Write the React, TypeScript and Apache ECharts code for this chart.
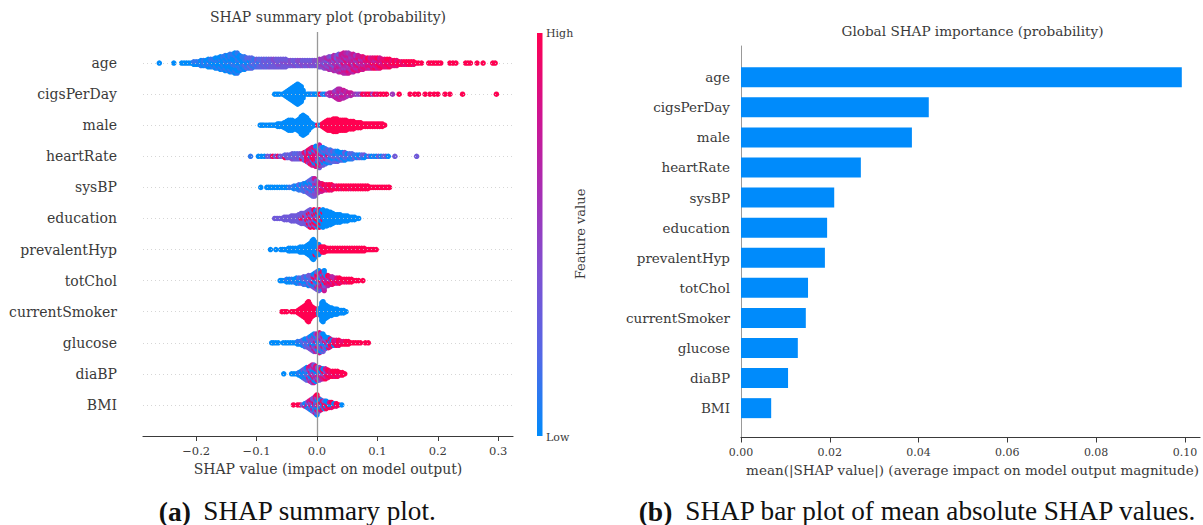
import React, { useEffect, useRef } from "react";
import * as echarts from "echarts";

const features = ["age", "cigsPerDay", "male", "heartRate", "sysBP", "education", "prevalentHyp", "totChol", "currentSmoker", "glucose", "diaBP", "BMI"];
const meanAbsShap = [0.0993, 0.0423, 0.0385, 0.027, 0.021, 0.0194, 0.0189, 0.0151, 0.0146, 0.0128, 0.0106, 0.0068];

// Each column: [SHAP value, one digit (0 low .. 9 high) per dot of the swarm at that value]
type Col = [number, string];
const age: Col[] = [[-0.261,"0"],[-0.237,"0"],[-0.224,"0"],[-0.22,"0"],[-0.216,"0"],[-0.212,"0"],[-0.208,"0"],[-0.204,"01"],[-0.2,"01"],[-0.196,"01"],[-0.192,"100"],[-0.188,"011"],[-0.184,"100"],[-0.18,"0110"],[-0.176,"0101"],[-0.172,"1001"],[-0.168,"01010"],[-0.164,"10010"],[-0.16,"010010"],[-0.156,"101001"],[-0.152,"0100101"],[-0.148,"1001010"],[-0.144,"01001011"],[-0.14,"10011001"],[-0.136,"010110010"],[-0.132,"100101101"],[-0.128,"0110100"],[-0.124,"101001"],[-0.12,"012011"],[-0.116,"21012"],[-0.112,"12102"],[-0.108,"21212"],[-0.104,"1221"],[-0.1,"2123"],[-0.096,"2212"],[-0.092,"2322"],[-0.088,"3233"],[-0.084,"2332"],[-0.08,"3233"],[-0.076,"3323"],[-0.072,"3334"],[-0.068,"3343"],[-0.064,"3433"],[-0.06,"3433"],[-0.056,"3343"],[-0.052,"3343"],[-0.048,"343"],[-0.044,"344"],[-0.04,"343"],[-0.036,"433"],[-0.032,"334"],[-0.028,"344"],[-0.024,"443"],[-0.02,"343"],[-0.016,"343"],[-0.012,"443"],[-0.008,"343"],[-0.004,"344"],[0,"434"],[0.004,"3445"],[0.008,"4545"],[0.012,"45345"],[0.016,"54536"],[0.02,"645364"],[0.024,"564563"],[0.028,"6536476"],[0.032,"5765634"],[0.036,"65764563"],[0.04,"75646567"],[0.044,"675685767"],[0.048,"675668576"],[0.052,"786576675"],[0.056,"75687656"],[0.06,"68756767"],[0.064,"8678575"],[0.068,"7685687"],[0.072,"876857"],[0.076,"786768"],[0.08,"87687"],[0.084,"78789"],[0.088,"68787"],[0.092,"87978"],[0.096,"97868"],[0.1,"78979"],[0.104,"89787"],[0.108,"9878"],[0.112,"8898"],[0.116,"8989"],[0.12,"9889"],[0.124,"898"],[0.128,"899"],[0.132,"898"],[0.136,"99"],[0.14,"98"],[0.144,"89"],[0.148,"89"],[0.152,"99"],[0.156,"99"],[0.16,"89"],[0.164,"9"],[0.168,"9"],[0.173,"9"],[0.185,"9"],[0.189,"9"],[0.193,"9"],[0.197,"9"],[0.201,"9"],[0.205,"9"],[0.22,"9"],[0.225,"9"],[0.23,"9"],[0.246,"9"],[0.25,"9"],[0.254,"9"],[0.265,"9"],[0.275,"9"],[0.291,"9"],[0.295,"9"]];
const cigsPerDay: Col[] = [[-0.07,"0"],[-0.066,"0"],[-0.062,"0"],[-0.057,"0"],[-0.053,"00"],[-0.05,"000"],[-0.047,"0000"],[-0.044,"00000"],[-0.041,"000000"],[-0.038,"0000000"],[-0.035,"00000000"],[-0.032,"000000000"],[-0.029,"00000000"],[-0.026,"0000000"],[-0.023,"0000"],[-0.02,"0"],[-0.016,"0"],[-0.013,"0"],[-0.01,"0"],[-0.007,"1"],[-0.004,"0"],[-0.001,"0"],[0.002,"0"],[0.005,"9"],[0.009,"1"],[0.013,"0"],[0.017,"5"],[0.021,"56"],[0.025,"67"],[0.029,"675"],[0.032,"7564"],[0.035,"67566"],[0.038,"76576"],[0.041,"6756"],[0.044,"6757"],[0.048,"676"],[0.052,"57"],[0.056,"67"],[0.06,"6"],[0.064,"5"],[0.068,"4"],[0.072,"5"],[0.076,"9"],[0.08,"8"],[0.084,"9"],[0.088,"9"],[0.092,"5"],[0.096,"9"],[0.1,"8"],[0.105,"9"],[0.11,"9"],[0.115,"9"],[0.125,"5"],[0.136,"9"],[0.154,"9"],[0.162,"9"],[0.168,"9"],[0.179,"9"],[0.187,"9"],[0.194,"9"],[0.2,"9"],[0.212,"9"],[0.22,"9"],[0.241,"9"],[0.297,"9"]];
const male: Col[] = [[-0.094,"0"],[-0.091,"0"],[-0.088,"0"],[-0.084,"0"],[-0.08,"0"],[-0.077,"0"],[-0.074,"0"],[-0.071,"0"],[-0.068,"0"],[-0.065,"00"],[-0.062,"00"],[-0.058,"00"],[-0.054,"000"],[-0.05,"0000"],[-0.047,"00000"],[-0.044,"00000"],[-0.041,"00000"],[-0.038,"0000"],[-0.035,"0000"],[-0.032,"00000"],[-0.029,"000000"],[-0.026,"00000000"],[-0.023,"000000000"],[-0.02,"00000000"],[-0.017,"0000000"],[-0.014,"00000"],[-0.011,"000"],[-0.008,"00"],[-0.004,"0"],[0.001,"9"],[0.005,"0"],[0.009,"99"],[0.012,"999"],[0.015,"9999"],[0.018,"99999"],[0.021,"99999"],[0.024,"99999"],[0.027,"999999"],[0.03,"999999"],[0.033,"999999"],[0.036,"99999"],[0.039,"99999"],[0.042,"99999"],[0.045,"99999"],[0.048,"99999"],[0.052,"9999"],[0.056,"9999"],[0.06,"9999"],[0.064,"999"],[0.068,"999"],[0.072,"999"],[0.076,"99"],[0.08,"99"],[0.084,"99"],[0.088,"99"],[0.092,"99"],[0.096,"99"],[0.1,"99"],[0.104,"99"],[0.108,"99"],[0.112,"9"]];
const heartRate: Col[] = [[-0.11,"1"],[-0.097,"0"],[-0.092,"0"],[-0.087,"0"],[-0.082,"3"],[-0.077,"3"],[-0.073,"9"],[-0.069,"3"],[-0.065,"8"],[-0.061,"3"],[-0.057,"3"],[-0.053,"92"],[-0.049,"33"],[-0.045,"32"],[-0.041,"423"],[-0.037,"332"],[-0.033,"342"],[-0.029,"323"],[-0.025,"934"],[-0.021,"2348"],[-0.017,"98963"],[-0.014,"487989"],[-0.011,"9680748"],[-0.008,"79398067"],[-0.005,"60989708"],[-0.002,"806978360"],[0.001,"790376850"],[0.004,"3806749207"],[0.007,"58307303"],[0.01,"30627120"],[0.014,"2073031"],[0.018,"023813"],[0.022,"130321"],[0.026,"20313"],[0.03,"21301"],[0.034,"30210"],[0.038,"1310"],[0.042,"2030"],[0.046,"0213"],[0.05,"130"],[0.054,"012"],[0.058,"102"],[0.062,"31"],[0.066,"01"],[0.07,"30"],[0.074,"12"],[0.078,"03"],[0.082,"0"],[0.086,"3"],[0.09,"0"],[0.094,"1"],[0.098,"0"],[0.102,"3"],[0.106,"0"],[0.11,"2"],[0.114,"3"],[0.118,"0"],[0.129,"3"],[0.165,"3"]];
const sysBP: Col[] = [[-0.093,"0"],[-0.083,"0"],[-0.08,"0"],[-0.077,"0"],[-0.074,"0"],[-0.07,"0"],[-0.066,"0"],[-0.062,"0"],[-0.058,"0"],[-0.054,"0"],[-0.05,"0"],[-0.046,"1"],[-0.042,"1"],[-0.038,"01"],[-0.034,"10"],[-0.03,"102"],[-0.026,"120"],[-0.022,"2131"],[-0.019,"1320"],[-0.016,"32130"],[-0.013,"241302"],[-0.01,"3214302"],[-0.007,"23143023"],[-0.004,"34204537"],[-0.001,"435073"],[0.002,"54635"],[0.005,"6578"],[0.008,"7968"],[0.012,"879"],[0.016,"798"],[0.02,"989"],[0.024,"899"],[0.028,"98"],[0.032,"98"],[0.036,"99"],[0.04,"89"],[0.044,"99"],[0.048,"99"],[0.052,"99"],[0.056,"89"],[0.06,"99"],[0.064,"99"],[0.068,"99"],[0.072,"99"],[0.076,"99"],[0.08,"99"],[0.084,"99"],[0.088,"9"],[0.091,"9"],[0.094,"9"],[0.097,"9"],[0.1,"9"],[0.103,"9"],[0.106,"9"],[0.109,"9"],[0.112,"9"],[0.115,"9"],[0.118,"9"],[0.12,"9"]];
const education: Col[] = [[-0.07,"3"],[-0.066,"3"],[-0.062,"3"],[-0.058,"3"],[-0.054,"33"],[-0.05,"33"],[-0.046,"33"],[-0.042,"333"],[-0.038,"333"],[-0.034,"333"],[-0.03,"3333"],[-0.026,"33933"],[-0.023,"33933"],[-0.02,"33393"],[-0.017,"339333"],[-0.014,"3939393"],[-0.011,"93339393"],[-0.008,"3939333"],[-0.005,"93933939"],[-0.002,"3909390"],[0.001,"09093093"],[0.004,"90909009"],[0.007,"0900900"],[0.01,"00090090"],[0.013,"000000"],[0.016,"0000000"],[0.019,"000000"],[0.022,"000000"],[0.026,"00000"],[0.03,"0000"],[0.034,"0000"],[0.038,"0000"],[0.042,"000"],[0.046,"000"],[0.05,"000"],[0.054,"00"],[0.058,"00"],[0.062,"00"],[0.066,"0"],[0.069,"0"]];
const prevalentHyp: Col[] = [[-0.077,"0"],[-0.068,"0"],[-0.06,"0"],[-0.057,"0"],[-0.054,"0"],[-0.05,"0"],[-0.047,"00"],[-0.044,"00"],[-0.04,"00"],[-0.036,"00"],[-0.032,"00"],[-0.028,"000"],[-0.024,"000"],[-0.02,"000"],[-0.017,"0000"],[-0.014,"00000"],[-0.011,"000000"],[-0.008,"00000000"],[-0.006,"000000000"],[-0.003,"0900000"],[0,"00000"],[0.003,"00900"],[0.006,"099"],[0.009,"999"],[0.012,"999"],[0.015,"99"],[0.018,"99"],[0.022,"99"],[0.026,"99"],[0.03,"99"],[0.034,"99"],[0.038,"99"],[0.042,"99"],[0.046,"99"],[0.05,"99"],[0.054,"99"],[0.058,"99"],[0.062,"99"],[0.066,"99"],[0.07,"99"],[0.074,"99"],[0.078,"99"],[0.082,"9"],[0.085,"9"],[0.088,"9"],[0.091,"9"],[0.094,"9"],[0.098,"9"]];
const totChol: Col[] = [[-0.061,"0"],[-0.058,"0"],[-0.054,"0"],[-0.05,"01"],[-0.046,"00"],[-0.042,"01"],[-0.038,"10"],[-0.034,"010"],[-0.03,"102"],[-0.026,"301"],[-0.022,"1023"],[-0.018,"2031"],[-0.014,"03213"],[-0.01,"30423"],[-0.006,"309380"],[-0.003,"4030930"],[0,"37303793"],[0.003,"309073950"],[0.006,"5739037"],[0.009,"06953708"],[0.012,"763095830"],[0.015,"39670"],[0.018,"68759"],[0.021,"7958"],[0.025,"8796"],[0.029,"986"],[0.033,"798"],[0.037,"989"],[0.041,"89"],[0.045,"99"],[0.049,"89"],[0.053,"99"],[0.057,"99"],[0.061,"9"],[0.065,"9"],[0.069,"9"],[0.076,"9"]];
const currentSmoker: Col[] = [[-0.058,"9"],[-0.054,"9"],[-0.05,"9"],[-0.042,"9"],[-0.038,"9"],[-0.034,"9"],[-0.031,"99"],[-0.028,"999"],[-0.025,"9999"],[-0.022,"99999"],[-0.019,"999999"],[-0.016,"99999999"],[-0.014,"999999999"],[-0.012,"9999999"],[-0.009,"99999"],[-0.006,"9999"],[-0.003,"999"],[0,"999"],[0.003,"000"],[0.006,"0000"],[0.008,"00000000"],[0.01,"000000000"],[0.012,"0000000"],[0.015,"000000"],[0.018,"00000"],[0.021,"0000"],[0.024,"0000"],[0.027,"000"],[0.03,"000"],[0.033,"000"],[0.036,"00"],[0.04,"00"],[0.044,"00"],[0.048,"0"]];
const glucose: Col[] = [[-0.075,"0"],[-0.072,"0"],[-0.068,"0"],[-0.064,"0"],[-0.056,"0"],[-0.052,"0"],[-0.048,"0"],[-0.044,"0"],[-0.04,"0"],[-0.036,"0"],[-0.032,"01"],[-0.028,"01"],[-0.024,"012"],[-0.02,"1320"],[-0.017,"3130"],[-0.014,"42313"],[-0.011,"330430"],[-0.008,"4370340"],[-0.005,"37304350"],[-0.002,"73507304"],[0.001,"30830437"],[0.004,"703430538"],[0.007,"04303743"],[0.01,"30803470"],[0.013,"430830"],[0.016,"03730"],[0.019,"80390"],[0.022,"7908"],[0.025,"980"],[0.028,"098"],[0.032,"987"],[0.036,"899"],[0.04,"98"],[0.044,"98"],[0.048,"99"],[0.052,"99"],[0.056,"9"],[0.06,"9"],[0.064,"9"],[0.068,"9"],[0.072,"9"],[0.08,"9"],[0.085,"9"]];
const diaBP: Col[] = [[-0.055,"0"],[-0.042,"0"],[-0.038,"0"],[-0.034,"0"],[-0.03,"01"],[-0.026,"010"],[-0.023,"0103"],[-0.02,"30102"],[-0.017,"203120"],[-0.014,"373047"],[-0.011,"7304738"],[-0.008,"37083047"],[-0.005,"70836073"],[-0.002,"0373078"],[0.001,"837063"],[0.004,"308703"],[0.007,"67309"],[0.01,"78390"],[0.014,"96837"],[0.018,"8979"],[0.022,"988"],[0.026,"989"],[0.03,"899"],[0.034,"989"],[0.038,"89"],[0.042,"99"],[0.046,"9"]];
const BMI: Col[] = [[-0.039,"9"],[-0.032,"9"],[-0.028,"9"],[-0.024,"3"],[-0.02,"70"],[-0.016,"073"],[-0.013,"3037"],[-0.01,"03748"],[-0.007,"370473"],[-0.004,"4037934"],[-0.002,"73040378"],[0,"038073049"],[0.003,"307908"],[0.006,"80390"],[0.009,"9308"],[0.012,"0893"],[0.015,"9080"],[0.018,"890"],[0.021,"907"],[0.024,"809"],[0.028,"90"],[0.032,"89"],[0.036,"9"],[0.041,"0"]];

const swarm = [age, cigsPerDay, male, heartRate, sysBP, education, prevalentHyp, totChol, currentSmoker, glucose, diaBP, BMI];

const RED_BLUE = ["#008bfb", "#5468e6", "#7d52d2", "#a62fb5", "#d01390", "#ff0051"];
const SERIF = "'DejaVu Serif', serif";
const CAPTION = "'Liberation Serif', serif";
const INK = "#3a3a3a";

const rowOf = (i: number) => features.length - 1 - i;
const dotStep = 0.08;
const points: number[][] = [];
swarm.forEach((cols, f) => {
  cols.forEach(([shap, digits]) => {
    const n = digits.length;
    digits.split("").forEach((d, k) => {
      points.push([shap, rowOf(f) + (k - (n - 1) / 2) * dotStep, Number(d) / 9]);
    });
  });
});
const shapTicks = [-0.2, -0.1, 0, 0.1, 0.2, 0.3];

const captionRich = {
  b: { font: `bold 27.5px ${CAPTION}`, fill: "#111111" },
  g: { width: 12, font: `27.2px ${CAPTION}` },
  r: { font: `27.2px ${CAPTION}`, fill: "#111111" },
};

export default function App() {
  const ref = useRef<HTMLDivElement>(null);
  useEffect(() => {
    document.body.style.margin = "0";
    const chart = echarts.init(ref.current!, undefined, { renderer: "svg" });
    chart.setOption({
      animation: false,
      backgroundColor: "#ffffff",
      textStyle: { fontFamily: SERIF },
      grid: [
        { left: 143, top: 32, width: 370, height: 404 },
        { left: 741, top: 46, width: 459, height: 391.5 },
        { left: 741, top: 62.2, width: 459, height: 361 },
      ],
      xAxis: [
        {
          gridIndex: 0, type: "value", min: -0.288, max: 0.3245,
          splitLine: { show: false },
          axisLine: { onZero: false, lineStyle: { color: INK, width: 1.2 } },
          axisTick: { length: 5, customValues: shapTicks, lineStyle: { color: INK } },
          axisLabel: {
            color: INK, fontSize: 11.5, fontFamily: SERIF, margin: 9,
            customValues: shapTicks,
            formatter: (v: number) => (v < 0 ? "\u2212" : "") + Math.abs(v).toFixed(1),
          },
          name: "SHAP value (impact on model output)",
          nameLocation: "middle", nameGap: 26,
          nameTextStyle: { color: INK, fontSize: 14, fontFamily: SERIF },
        },
        {
          gridIndex: 1, type: "value", min: 0, max: 0.1034, interval: 0.02,
          splitLine: { show: false },
          axisLine: { onZero: false, lineStyle: { color: INK, width: 1.2 } },
          axisTick: { length: 5, lineStyle: { color: INK } },
          axisLabel: {
            color: INK, fontSize: 11, fontFamily: SERIF, margin: 9,
            formatter: (v: number) => v.toFixed(2),
          },
          name: "mean(|SHAP value|) (average impact on model output magnitude)",
          nameLocation: "middle", nameGap: 25,
          nameTextStyle: { color: INK, fontSize: 13.5, fontFamily: SERIF, padding: [0, 0, 0, 4] },
        },
        { gridIndex: 2, type: "value", min: 0, max: 0.1034, show: false },
      ],
      yAxis: [
        {
          gridIndex: 0, type: "value", min: -1, max: 12, interval: 1,
          splitLine: { show: false }, axisLine: { show: false }, axisTick: { show: false },
          axisLabel: {
            color: INK, fontSize: 14, fontFamily: SERIF, margin: 26, padding: [0, 0, 2, 0],
            formatter: (v: number) => (v >= 0 && v < features.length ? features[rowOf(v)] : ""),
          },
        },
        {
          gridIndex: 1, type: "value", min: 0, max: 1,
          splitLine: { show: false },
          axisLine: { onZero: false, lineStyle: { color: "#999999", width: 1 } },
          axisTick: { show: false }, axisLabel: { show: false },
        },
        {
          gridIndex: 2, type: "category", inverse: true, data: features,
          splitLine: { show: false }, axisLine: { show: false }, axisTick: { show: false },
          axisLabel: { color: INK, fontSize: 13.5, fontFamily: SERIF, margin: 11 },
        },
      ],
      visualMap: {
        show: false, seriesIndex: 0, dimension: 2, min: 0, max: 1,
        inRange: { color: RED_BLUE },
      },
      series: [
        {
          type: "scatter", xAxisIndex: 0, yAxisIndex: 0, data: points,
          symbolSize: 5.5, itemStyle: { opacity: 1 }, silent: true,
          markLine: {
            silent: true, symbol: "none", label: { show: false },
            data: [
              ...features.map((_, i) => ({ yAxis: i, lineStyle: { color: "#cccccc", type: [1, 3], width: 0.8 } })),
              { xAxis: 0, lineStyle: { color: "#999999", type: "solid", width: 1.3 } },
            ],
          },
          z: 3,
        },
        {
          type: "bar", xAxisIndex: 2, yAxisIndex: 2, data: meanAbsShap,
          barWidth: 20, itemStyle: { color: "#008bfb" }, silent: true,
        },
      ],
      graphic: [
        { type: "text", x: 328, y: 17, style: { text: "SHAP summary plot (probability)", fill: INK, font: `14px ${SERIF}`, align: "center", verticalAlign: "middle" } },
        { type: "text", x: 972.5, y: 31, style: { text: "Global SHAP importance (probability)", fill: INK, font: `13.6px ${SERIF}`, align: "center", verticalAlign: "middle" } },
        {
          type: "rect", shape: { x: 537, y: 33, width: 5.5, height: 403 },
          style: {
            fill: new echarts.graphic.LinearGradient(0, 1, 0, 0,
              RED_BLUE.map((color, i) => ({ offset: i / (RED_BLUE.length - 1), color }))),
          },
        },
        { type: "text", x: 546, y: 33, style: { text: "High", fill: INK, font: `11px ${SERIF}`, align: "left", verticalAlign: "middle" } },
        { type: "text", x: 546, y: 437, style: { text: "Low", fill: INK, font: `11px ${SERIF}`, align: "left", verticalAlign: "middle" } },
        { type: "text", x: 580, y: 234, rotation: Math.PI / 2, style: { text: "Feature value", fill: INK, font: `13px ${SERIF}`, align: "center", verticalAlign: "middle" } },
        {
          type: "text", x: 297.5, y: 511,
          style: { text: "{b|(a)}{g| }{r|SHAP summary plot.}", align: "center", verticalAlign: "middle", rich: captionRich },
        },
        {
          type: "text", x: 917.5, y: 511,
          style: { text: "{b|(b)}{g| }{r|SHAP bar plot of mean absolute SHAP values.}", align: "center", verticalAlign: "middle", rich: captionRich },
        },
      ],
    });
    return () => chart.dispose();
  }, []);
  return <div ref={ref} style={{ width: 1203, height: 525 }} />;
}
